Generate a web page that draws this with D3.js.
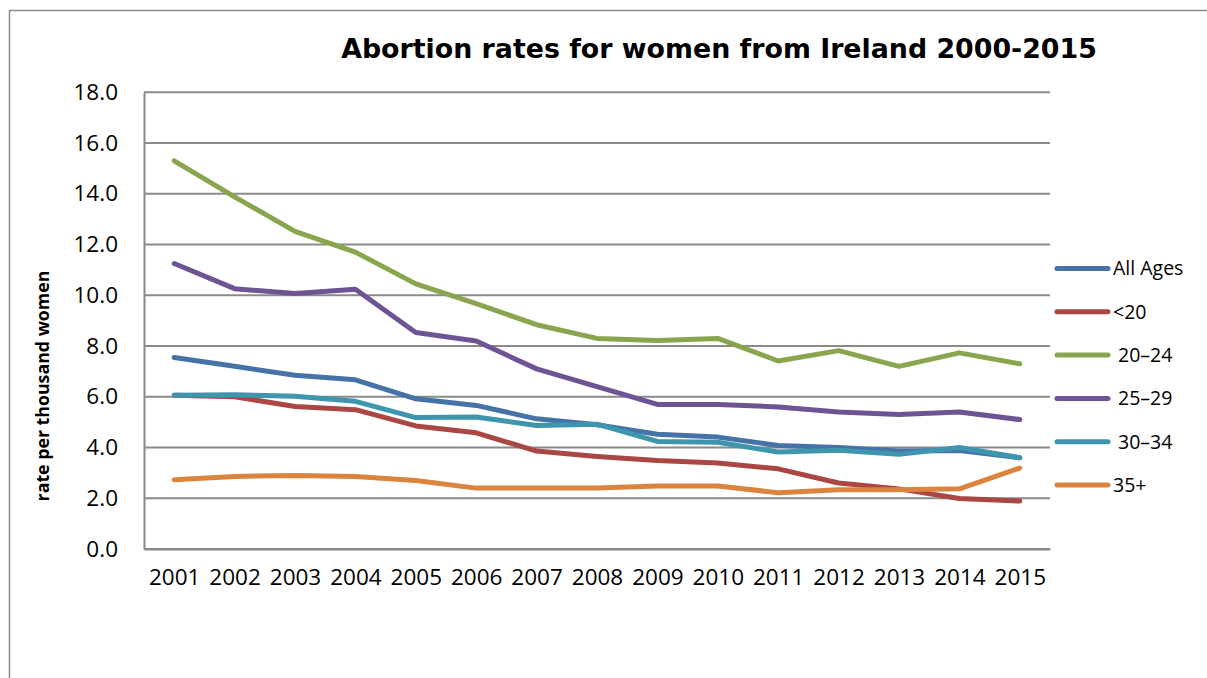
<!DOCTYPE html>
<html>
<head>
<meta charset="utf-8">
<script src="https://cdn.jsdelivr.net/npm/d3@7"></script>
<style>
  html, body { margin: 0; padding: 0; background: #fff; }
  svg { display: block; }
</style>
</head>
<body>
<svg id="chart" width="1207" height="678"></svg>
<script>
const years = ["2001","2002","2003","2004","2005","2006","2007","2008","2009","2010","2011","2012","2013","2014","2015"];
const seriesNames = ["All Ages", "<20", " 20–24", " 25–29", " 30–34", "35+"];
const allAges = [7.55, 7.2, 6.85, 6.67, 5.92, 5.66, 5.13, 4.9, 4.52, 4.41, 4.08, 4.0, 3.86, 3.88, 3.6];
const under20 = [6.06, 6.0, 5.62, 5.49, 4.85, 4.58, 3.86, 3.65, 3.49, 3.39, 3.16, 2.6, 2.37, 1.99, 1.89];
const age20_24 = [15.3, 13.88, 12.52, 11.7, 10.45, 9.67, 8.84, 8.3, 8.22, 8.3, 7.41, 7.82, 7.2, 7.73, 7.3];
const age25_29 = [11.25, 10.26, 10.07, 10.24, 8.53, 8.2, 7.1, 6.4, 5.7, 5.7, 5.6, 5.4, 5.3, 5.4, 5.1];
const age30_34 = [6.06, 6.08, 6.02, 5.82, 5.18, 5.2, 4.87, 4.92, 4.24, 4.21, 3.82, 3.89, 3.73, 4.0, 3.6];
const age35plus = [2.73, 2.86, 2.9, 2.86, 2.7, 2.4, 2.4, 2.4, 2.48, 2.48, 2.22, 2.34, 2.34, 2.37, 3.19];
const yTicks = [0, 2, 4, 6, 8, 10, 12, 14, 16, 18];
const colors = ["#4572A7", "#AA4643", "#89A54E", "#6E5494", "#3D96AE", "#DB843D"];
const titleText = "Abortion rates for women from Ireland 2000-2015";
const yTitleText = "rate per thousand women";

const seriesValues = [allAges, under20, age20_24, age25_29, age30_34, age35plus];

const svg = d3.select("#chart");
const grey = "#8a8a8a";
const plotLeft = 144, plotRight = 1050, plotTop = 92.3, plotBottom = 549;

// outer border (chart area)
svg.append("path")
  .attr("d", "M9.5,678 L9.5,10.5 L1207,10.5")
  .attr("fill", "none").attr("stroke", grey).attr("stroke-width", 1.5);

const x = d3.scalePoint().domain(years).range([plotLeft, plotRight]).padding(0.5);
const y = d3.scaleLinear().domain([0, 18]).range([plotBottom, plotTop]);

// gridlines
svg.append("g").selectAll("line").data(yTicks).join("line")
  .attr("x1", plotLeft).attr("x2", plotRight)
  .attr("y1", d => y(d)).attr("y2", d => y(d))
  .attr("stroke", grey).attr("stroke-width", 2);

// y axis
const yAxis = svg.append("g").attr("transform", `translate(${plotLeft},0)`)
  .call(d3.axisLeft(y).tickValues(yTicks).tickFormat(d3.format(".1f")).tickSize(0).tickPadding(26));
yAxis.select(".domain").attr("stroke", grey).attr("stroke-width", 2);
yAxis.selectAll("text").attr("font-family", "Open Sans").attr("font-size", "22.5px").attr("fill", "#000");

// x axis
const xAxis = svg.append("g").attr("transform", `translate(0,${plotBottom})`)
  .call(d3.axisBottom(x).tickSize(0).tickPadding(20));
xAxis.select(".domain").attr("stroke", grey).attr("stroke-width", 2);
xAxis.selectAll("text").attr("font-family", "Open Sans").attr("font-size", "22.5px").attr("fill", "#000");

// lines
const line = d3.line().x((d, i) => x(years[i])).y(d => y(d));
svg.append("g").selectAll("path").data(seriesValues).join("path")
  .attr("d", d => line(d))
  .attr("fill", "none")
  .attr("stroke", (d, i) => colors[i])
  .attr("stroke-width", 5)
  .attr("stroke-linejoin", "round")
  .attr("stroke-linecap", "round");

// legend
const legendY = d3.scalePoint().domain(seriesNames).range([268.5, 485]);
const lg = svg.append("g").selectAll("g").data(seriesNames).join("g")
  .attr("transform", d => `translate(0,${legendY(d)})`);
lg.append("line").attr("x1", 1057).attr("x2", 1108).attr("y1", 0).attr("y2", 0)
  .attr("stroke", (d, i) => colors[i]).attr("stroke-width", 5).attr("stroke-linecap", "round");
lg.append("text").attr("x", 1113).attr("dy", "0.35em")
  .style("white-space", "pre")
  .attr("font-family", "Open Sans").attr("font-size", "19.5px").attr("fill", "#000")
  .text(d => d);

// title
const title = svg.append("text")
  .attr("x", 719).attr("y", 58).attr("text-anchor", "middle")
  .attr("font-family", "DejaVu Sans").attr("font-weight", "bold").attr("font-size", "24px")
  .text(titleText);
const tw = title.node().getComputedTextLength();
title.attr("font-size", (24 * 756 / tw) + "px");

// y axis title
const yt = svg.append("text")
  .attr("transform", "translate(49,386) rotate(-90)")
  .attr("text-anchor", "middle")
  .attr("font-family", "Open Sans").attr("font-weight", "bold").attr("font-size", "15px")
  .text(yTitleText);
const yw = yt.node().getComputedTextLength();
yt.attr("font-size", (15 * 231 / yw) + "px");
</script>
</body>
</html>
